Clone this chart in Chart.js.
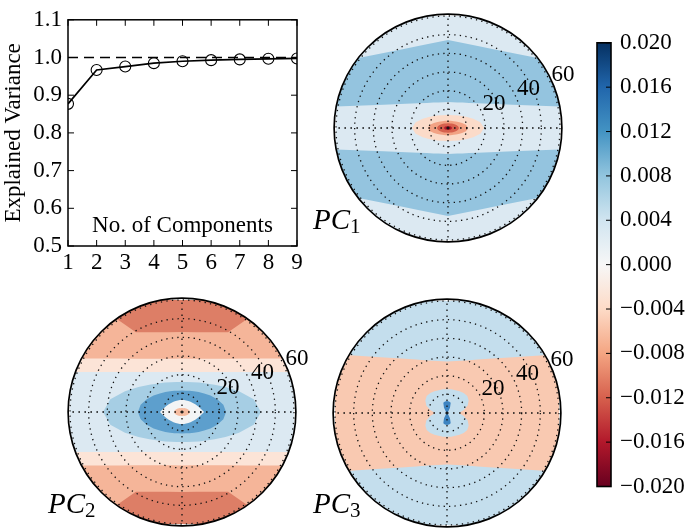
<!DOCTYPE html>
<html>
<head>
<meta charset="utf-8">
<script src="https://cdn.jsdelivr.net/npm/chart.js@4"></script>
<style>
  body { margin: 0; background: #fff; }
  #page { position: relative; width: 685px; height: 528px; overflow: hidden; background: #fff; }
  canvas { position: absolute; }
  .pcl { position: absolute; font-family: "Liberation Serif", serif; font-size: 29px; line-height: 29px; color: #000; white-space: nowrap; }
  .pcl span { font-size: 21px; position: relative; top: 4px; font-style: normal; }
</style>
</head>
<body>
<div id="page">
  <canvas id="varChart" width="310" height="276" style="left:0;top:0"></canvas>
  <canvas id="pc1Chart" width="260" height="240" style="left:328px;top:8px"></canvas>
  <canvas id="pc2Chart" width="260" height="240" style="left:62px;top:292px"></canvas>
  <canvas id="pc3Chart" width="260" height="240" style="left:327px;top:293px"></canvas>
  <canvas id="cbarChart" width="95" height="490" style="left:590px;top:20px"></canvas>
  <div class="pcl" style="left:313px;top:205px"><i>PC</i><span>1</span></div>
  <div class="pcl" style="left:48px;top:489px"><i>PC</i><span>2</span></div>
  <div class="pcl" style="left:313px;top:489px"><i>PC</i><span>3</span></div>
</div>
<script>
// explained variance panel
const components = ['1', '2', '3', '4', '5', '6', '7', '8', '9'];
const explainedVariance = [0.877, 0.967, 0.976, 0.985, 0.990, 0.993, 0.995, 0.9965, 0.9975];
const fullVariance = [1, 1, 1, 1, 1, 1, 1, 1, 1];

// colour bar
const cbarRange = [-0.02, 0.02];
const cbarStep = 0.004;
const rdbu = ['#67001f', '#b2182b', '#d6604d', '#f4a582', '#fddbc7', '#f7f7f7',
              '#d1e5f0', '#92c5de', '#4393c3', '#2166ac', '#053061'];

// polar panels: angles from the top, clockwise; radii in the units of the rings
const polarAngles = [];
for (let a = 0; a < 360; a += 10) polarAngles.push(a);
const ringTicks = [20, 40, 60];
const polarRim = 61;

// quarter profiles (0°..90° from vertical), mirrored to the other quadrants
const pc1Disc     = [70, 70, 70, 70, 70, 70, 70, 70, 70, 70];
const pc1Band     = [47.1, 46.2, 46.7, 48.7, 52.6, 59.1, 70.0, 88.8, 127, 200];
const pc1Strip    = [13.9, 14.0, 14.6, 15.7, 17.5, 20.7, 26.0, 36.6, 65.3, 150];
const pc1Pink     = [7.0, 7.1, 7.3, 7.9, 8.7, 9.9, 11.8, 14.4, 17.6, 19.3];
const pc1Salmon   = [3.9, 3.9, 4.1, 4.4, 4.8, 5.5, 6.5, 8.0, 9.8, 10.7];
const pc1Red      = [2.5, 2.6, 2.6, 2.8, 3.1, 3.5, 4.0, 4.8, 5.5, 5.9];
const pc1Core     = [1.0, 1.0, 1.1, 1.1, 1.2, 1.4, 1.6, 1.8, 2.0, 2.1];

const pc2Disc     = [70, 70, 70, 70, 70, 70, 70, 70, 70, 70];
const pc2Salmon   = [42.8, 43.4, 45.5, 49.4, 80, 80, 80, 80, 80, 80];
const pc2Pink     = [28.6, 29.0, 30.4, 33.0, 37.3, 44.5, 57.2, 83.6, 164.7, 200];
const pc2Light    = [21.4, 21.7, 22.8, 24.7, 27.9, 33.3, 42.8, 62.6, 123.2, 200];
const pc2Blue     = [16.1, 16.3, 17.0, 18.2, 20.0, 22.8, 26.9, 32.5, 39.0, 42.3];
const pc2Dark     = [11.5, 11.6, 12.1, 12.8, 13.9, 15.5, 17.6, 20.1, 22.5, 23.6];
const pc2White    = [6.4, 6.5, 6.6, 6.8, 7.1, 7.6, 8.2, 9.1, 10.2, 11.8];
const pc2Core     = [2.1, 2.2, 2.2, 2.4, 2.6, 2.9, 3.3, 3.7, 4.1, 4.3];

const pc3Disc     = [70, 70, 70, 70, 70, 70, 70, 70, 70, 70];
const pc3Band     = [27.6, 28.3, 30.0, 33.1, 38.1, 46.5, 62.2, 98.4, 150, 200];
const pc3Bowtie   = [12.7, 12.9, 13.0, 13.4, 13.9, 14.2, 13.4, 11.8, 9.1, 6.4];
const pc3Dots     = [6.4, 6.3, 5.8, 3.2, 1.0, 0.5, 0.5, 0.5, 0.5, 0.5];

const FONT = '"Liberation Serif", "DejaVu Serif", serif';
Chart.defaults.font.family = FONT;
Chart.defaults.font.size = 23;
Chart.defaults.color = '#000';

function mirror(q) {
  return polarAngles.map(a => {
    if (a <= 90) return q[a / 10];
    if (a <= 180) return q[(180 - a) / 10];
    if (a <= 270) return q[(a - 180) / 10];
    return q[(360 - a) / 10];
  });
}

// ---- explained variance ----
const frameTicks = {
  id: 'frameTicks',
  afterDatasetsDraw(chart) {
    const { ctx, chartArea: a, scales: { x, y } } = chart;
    ctx.save();
    ctx.strokeStyle = '#000';
    ctx.lineWidth = 1;
    ctx.beginPath();
    x.ticks.forEach((t, i) => {
      const px = x.getPixelForTick(i);
      ctx.moveTo(px, a.bottom); ctx.lineTo(px, a.bottom - 6);
      ctx.moveTo(px, a.top); ctx.lineTo(px, a.top + 6);
    });
    y.ticks.forEach((t, i) => {
      const py = y.getPixelForTick(i);
      ctx.moveTo(a.left, py); ctx.lineTo(a.left + 6, py);
      ctx.moveTo(a.right, py); ctx.lineTo(a.right - 6, py);
    });
    ctx.stroke();
    ctx.lineWidth = 1.5;
    ctx.strokeRect(a.left, a.top, a.width, a.height);
    ctx.font = '23px ' + FONT;
    ctx.fillStyle = '#000';
    ctx.textAlign = 'center';
    ctx.textBaseline = 'alphabetic';
    ctx.fillText('No. of Components', (a.left + a.right) / 2, a.bottom - 14);
    ctx.restore();
  }
};

new Chart(document.getElementById('varChart'), {
  type: 'line',
  data: {
    labels: components,
    datasets: [
      {
        data: explainedVariance,
        borderColor: '#000',
        borderWidth: 1.7,
        pointRadius: 5.5,
        pointBorderWidth: 1.1,
        pointBorderColor: '#000',
        pointBackgroundColor: 'transparent',
        clip: 0
      },
      {
        data: fullVariance,
        borderColor: '#000',
        borderWidth: 1.6,
        borderDash: [10, 6],
        pointRadius: 0,
        clip: 0
      }
    ]
  },
  options: {
    responsive: false,
    animation: false,
    events: [],
    layout: { padding: { top: 10, right: 13, left: 0, bottom: 0 } },
    plugins: { legend: { display: false }, tooltip: { enabled: false } },
    scales: {
      x: {
        grid: { display: false, drawTicks: false },
        border: { display: false },
        ticks: { padding: 3, maxRotation: 0, autoSkip: false },
        afterFit: s => { s.height = 30; }
      },
      y: {
        min: 0.5, max: 1.1,
        grid: { display: false, drawTicks: false },
        border: { display: false },
        ticks: { stepSize: 0.1, padding: 6, callback: v => v.toFixed(1) },
        title: { display: true, text: 'Explained Variance', padding: 0, font: { size: 23 } },
        afterFit: s => { s.width = 68; }
      }
    }
  },
  plugins: [frameTicks]
});

// ---- polar panels ----
const discClip = {
  id: 'discClip',
  beforeDatasetsDraw(chart) {
    const s = chart.scales.r;
    const ctx = chart.ctx;
    ctx.save();
    ctx.beginPath();
    ctx.arc(s.xCenter, s.yCenter, s.getDistanceFromCenterForValue(polarRim), 0, Math.PI * 2);
    ctx.clip();
  },
  afterDatasetsDraw(chart) {
    chart.ctx.restore();
  }
};

const ringLabels = {
  id: 'ringLabels',
  afterDraw(chart) {
    const s = chart.scales.r;
    const ctx = chart.ctx;
    ctx.save();
    ctx.beginPath();
    ctx.arc(s.xCenter, s.yCenter, s.getDistanceFromCenterForValue(polarRim), 0, Math.PI * 2);
    ctx.lineWidth = 1.7;
    ctx.strokeStyle = '#000';
    ctx.stroke();
    ctx.font = '23px ' + FONT;
    ctx.fillStyle = '#000';
    ctx.textAlign = 'left';
    ctx.textBaseline = 'alphabetic';
    const ang = 22.5 * Math.PI / 180;
    ringTicks.forEach(v => {
      const d = s.getDistanceFromCenterForValue(v);
      ctx.fillText(String(v), s.xCenter + d * Math.cos(ang), s.yCenter - d * Math.sin(ang) - 4);
    });
    ctx.restore();
  }
};

function polarChart(id, layers) {
  const n = layers.length;
  new Chart(document.getElementById(id), {
    type: 'radar',
    data: {
      labels: polarAngles,
      datasets: layers.map(([q, color], i) => ({
        data: mirror(q),
        backgroundColor: color,
        borderColor: 'transparent',
        borderWidth: 0,
        fill: 'origin',
        pointRadius: 0,
        pointHitRadius: 0,
        order: n - i
      }))
    },
    options: {
      responsive: false,
      animation: false,
      events: [],
      layout: { padding: { left: 8, right: 28, top: 8, bottom: 8 } },
      plugins: { legend: { display: false }, tooltip: { enabled: false } },
      elements: { line: { tension: 0 } },
      scales: {
        r: {
          min: 0, max: 60,
          ticks: { display: false, stepSize: 10 },
          pointLabels: { display: false },
          grid: { circular: true, z: 1, color: '#111', lineWidth: 1.3, borderDash: [1.3, 4.2] },
          border: { dash: [1.3, 4.2] },
          angleLines: {
            color: '#111',
            lineWidth: c => (c.index % 9 === 0 ? 1.3 : 0),
            borderDash: [1.6, 4.4]
          }
        }
      }
    },
    plugins: [discClip, ringLabels]
  });
}

polarChart('pc1Chart', [
  [pc1Disc, '#dce9f2'],
  [pc1Band, '#94c4df'],
  [pc1Strip, '#dce9f2'],
  [pc1Pink, '#fbdbc9'],
  [pc1Salmon, '#f2a284'],
  [pc1Red, '#d6604d'],
  [pc1Core, '#b2182b']
]);

polarChart('pc2Chart', [
  [pc2Disc, '#dd7e66'],
  [pc2Salmon, '#f5b599'],
  [pc2Pink, '#fce4d7'],
  [pc2Light, '#dce9f2'],
  [pc2Blue, '#a6cee4'],
  [pc2Dark, '#5d9fcd'],
  [pc2White, '#f3f4f5'],
  [pc2Core, '#f6bca0']
]);

polarChart('pc3Chart', [
  [pc3Disc, '#c4deed'],
  [pc3Band, '#f9c9b1'],
  [pc3Bowtie, '#c4deed'],
  [pc3Dots, '#3d84c1']
]);

// ---- colour bar ----
const cbarFrame = {
  id: 'cbarFrame',
  afterDraw(chart) {
    const { ctx, chartArea: a, scales: { y } } = chart;
    ctx.save();
    ctx.strokeStyle = '#000';
    ctx.lineWidth = 1;
    ctx.beginPath();
    y.ticks.forEach((t, i) => {
      const py = y.getPixelForTick(i);
      ctx.moveTo(a.right, py); ctx.lineTo(a.right - 5, py);
    });
    ctx.stroke();
    ctx.lineWidth = 1.6;
    ctx.strokeRect(a.left, a.top, a.width, a.height);
    ctx.restore();
  }
};

function cbarLabel(v) {
  if (Math.abs(v) < 1e-9) return '0.000';
  const s = Math.abs(v).toFixed(3);
  return v < 0 ? '\u2212' + s : s;
}

new Chart(document.getElementById('cbarChart'), {
  type: 'bar',
  data: {
    labels: [''],
    datasets: [{
      data: [cbarRange],
      barPercentage: 1,
      categoryPercentage: 1,
      borderWidth: 0,
      backgroundColor: c => {
        const ca = c.chart.chartArea;
        if (!ca) return '#f7f7f7';
        const g = c.chart.ctx.createLinearGradient(0, ca.bottom, 0, ca.top);
        rdbu.forEach((col, i) => g.addColorStop(i / (rdbu.length - 1), col));
        return g;
      }
    }]
  },
  options: {
    responsive: false,
    animation: false,
    events: [],
    layout: { padding: { left: 7, top: 18.5, bottom: 23.5, right: 0 } },
    plugins: { legend: { display: false }, tooltip: { enabled: false } },
    scales: {
      x: { display: false },
      y: {
        position: 'right',
        min: cbarRange[0], max: cbarRange[1],
        grid: { display: false, drawTicks: false },
        border: { display: false },
        ticks: { stepSize: cbarStep, padding: 9, callback: cbarLabel },
        afterFit: s => { s.width = 74; }
      }
    }
  },
  plugins: [cbarFrame]
});
</script>
</body>
</html>
